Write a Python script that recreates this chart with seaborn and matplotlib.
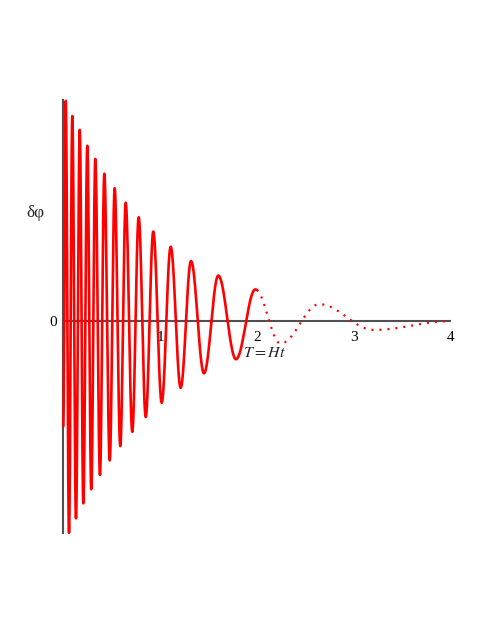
import numpy as np
import pandas as pd
import matplotlib
matplotlib.use("Agg")
import matplotlib.pyplot as plt
import seaborn as sns

# extrema of the oscillation (T = Ht, delta phi in arbitrary units)
ext_T = [0.0, 0.025, 0.059, 0.093, 0.131, 0.170, 0.207, 0.248, 0.289, 0.331,
         0.379, 0.424, 0.480, 0.531, 0.589, 0.645, 0.713, 0.779, 0.852, 0.930,
         1.017, 1.110, 1.213, 1.320, 1.454, 1.602, 1.785, 1.984, 2.245, 2.646,
         3.21, 4.0]
ext_val = [-0.48, 0.999, -0.964, 0.930, -0.898, 0.867, -0.830, 0.795, -0.766, 0.735,
           -0.701, 0.668, -0.635, 0.602, -0.570, 0.536, -0.505, 0.470, -0.438, 0.405,
           -0.373, 0.336, -0.305, 0.271, -0.239, 0.205, -0.175, 0.142, -0.104, 0.075,
           -0.042, -0.002]
T_split = 2.0          # solid before, dotted after
x_ticks = [1, 2, 3, 4]
x_tick_labels = ["1", "2", "3", "4"]

# smooth half-cosine shape between consecutive extrema
ts, vs = [], []
for i in range(len(ext_T) - 1):
    s = np.linspace(0, 1, 40, endpoint=False)
    ts.extend(ext_T[i] + (ext_T[i + 1] - ext_T[i]) * s)
    vs.extend(ext_val[i] + (ext_val[i + 1] - ext_val[i]) * (1 - np.cos(np.pi * s)) / 2)
ts.append(ext_T[-1])
vs.append(ext_val[-1])
df = pd.DataFrame({"T": ts, "dphi": vs})
# value exactly at the split so both pieces join
v_split = np.interp(T_split, df["T"], df["dphi"])
solid = pd.concat([df[df["T"] < T_split], pd.DataFrame({"T": [T_split], "dphi": [v_split]})])
dotted = pd.concat([pd.DataFrame({"T": [T_split], "dphi": [v_split]}), df[df["T"] > T_split]])

sns.set_style("white")
plt.rcParams["font.family"] = ["Liberation Serif", "DejaVu Serif"]
plt.rcParams["mathtext.fontset"] = "stix"

fig = plt.figure(figsize=(4.91, 6.35), dpi=100)
ax = fig.add_axes([63.3 / 491, (635 - 533) / 635, 387 / 491, 433 / 635])

sns.lineplot(data=solid, x="T", y="dphi", ax=ax, color="#ff0000", lw=1.9,
             sort=False, estimator=None, clip_on=False)
sns.lineplot(data=dotted, x="T", y="dphi", ax=ax, color="#ff0000", lw=1.6,
             linestyle=(0, (0.9, 2.7)), sort=False, estimator=None, clip_on=False)

ax.set_xlim(0, 4)
ax.set_ylim(-0.965, 1.003)
for side in ["top", "right"]:
    ax.spines[side].set_visible(False)
ax.spines["left"].set_position(("data", 0))
ax.spines["bottom"].set_position(("data", 0))
ax.spines["bottom"].set_bounds(0, 4)
for side in ["left", "bottom"]:
    ax.spines[side].set_color("#505050")
    ax.spines[side].set_linewidth(1.5)
    ax.spines[side].set_zorder(1)

ax.set_xticks(x_ticks)
ax.set_xticklabels(x_tick_labels)
ax.set_xticks([0.5, 1.5, 2.5, 3.5], minor=True)
ax.set_yticks([0])
ax.set_yticklabels(["0"])
ax.tick_params(axis="both", which="both", direction="out", length=2.5, width=0.8,
               color="#c8c8c8", labelsize=11, labelcolor="black")
ax.tick_params(axis="x", which="major", pad=5)
ax.tick_params(axis="y", which="major", pad=2)
ax.set_xlabel("")
ax.set_ylabel("")

fig.text(35 / 491, 1 - 213 / 635, "δφ", fontsize=12.5, ha="center", va="center")
fig.text(264 / 491, 1 - 353 / 635, r"$T=Ht$", fontsize=11.5, ha="center", va="center")

fig.savefig("out.png", dpi=100, facecolor="white")
